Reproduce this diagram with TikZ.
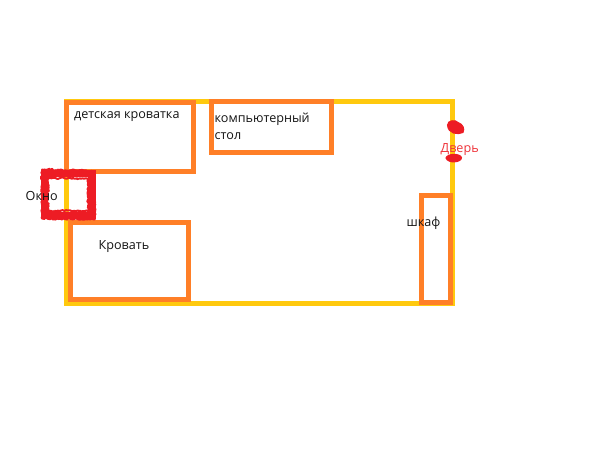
\documentclass[tikz,border=0pt]{standalone}
\usepackage{fontspec}
\setmainfont{Open Sans}
\usetikzlibrary{decorations.pathmorphing}
\definecolor{roomyellow}{HTML}{FFC90E}
\definecolor{furnorange}{HTML}{FF7F27}
\definecolor{markred}{HTML}{ED1C24}
\definecolor{inktext}{HTML}{141414}
\tikzset{
  room/.style={draw=roomyellow,line width=5pt},
  furn/.style={draw=furnorange,line width=5pt},
  solidmark/.style={draw=markred,line width=7.5pt,line join=miter},
  scribble/.style={draw=markred,line width=2pt,line join=round,
    decorate,decoration={random steps,segment length=1.3pt,amplitude=0.9pt}},
  blob/.style={fill=markred,draw=markred,line width=1pt},
  lbl/.style={text=inktext,font=\fontsize{12.6pt}{17.7pt}\selectfont,inner sep=0pt,anchor=base west,align=left},
}
\begin{document}
\begin{tikzpicture}[x=1pt,y=-1pt]
\useasboundingbox[fill=white] (0,0) rectangle (600,449);
% room outline
\draw[room] (66.5,102) rectangle (452.5,303.5);
% furniture
\draw[furn] (66.7,103) rectangle (193.5,171.5);
\draw[furn] (70,222.5) rectangle (188.5,299.5);
\draw[furn] (211.5,101.5) rectangle (331,152.5);
\draw[furn] (421.8,195.8) rectangle (450,302.5);
% window: a solid band with ragged edges
\draw[solidmark] (44.7,173.5) rectangle (92,215.5);
\fill[markred] (41,170) rectangle (60,175);
\fill[markred] (60,171) rectangle (94,176);
\draw[scribble] (42,169.5) -- (94,171) -- (95,219) -- (42,218.5) -- cycle;
\draw[scribble] (48,178) -- (88,178.5) -- (88,211) -- (48,211) -- cycle;
% door marks
\draw[blob] (447.5,125) ..controls (447.5,120) and (456,119.5) .. (458,122.5)
   ..controls (463,124) and (465,129) .. (463,132.5) ..controls (458,135) and (448,134) .. (447.5,125) -- cycle;
\draw[blob] (446,158) ..controls (447,153.5) and (460,153) .. (461.5,157.5)
   ..controls (462,162.5) and (448,164) .. (446,158) -- cycle;
% labels
\node[lbl] (crib) at (74,118.3) {детская кроватка};
\node[lbl] (desk) at (214.5,140) {компьютерный\\стол};
\node[lbl] (bed) at (98.5,249.3) {Кровать};
\node[lbl] (win) at (25.5,201) {Окно};
\node[lbl] (ward) at (406.5,226.7) {шкаф};
\node[lbl,text=markred!90!white] (door) at (440.5,152.7) {Дверь};
\end{tikzpicture}
\end{document}
